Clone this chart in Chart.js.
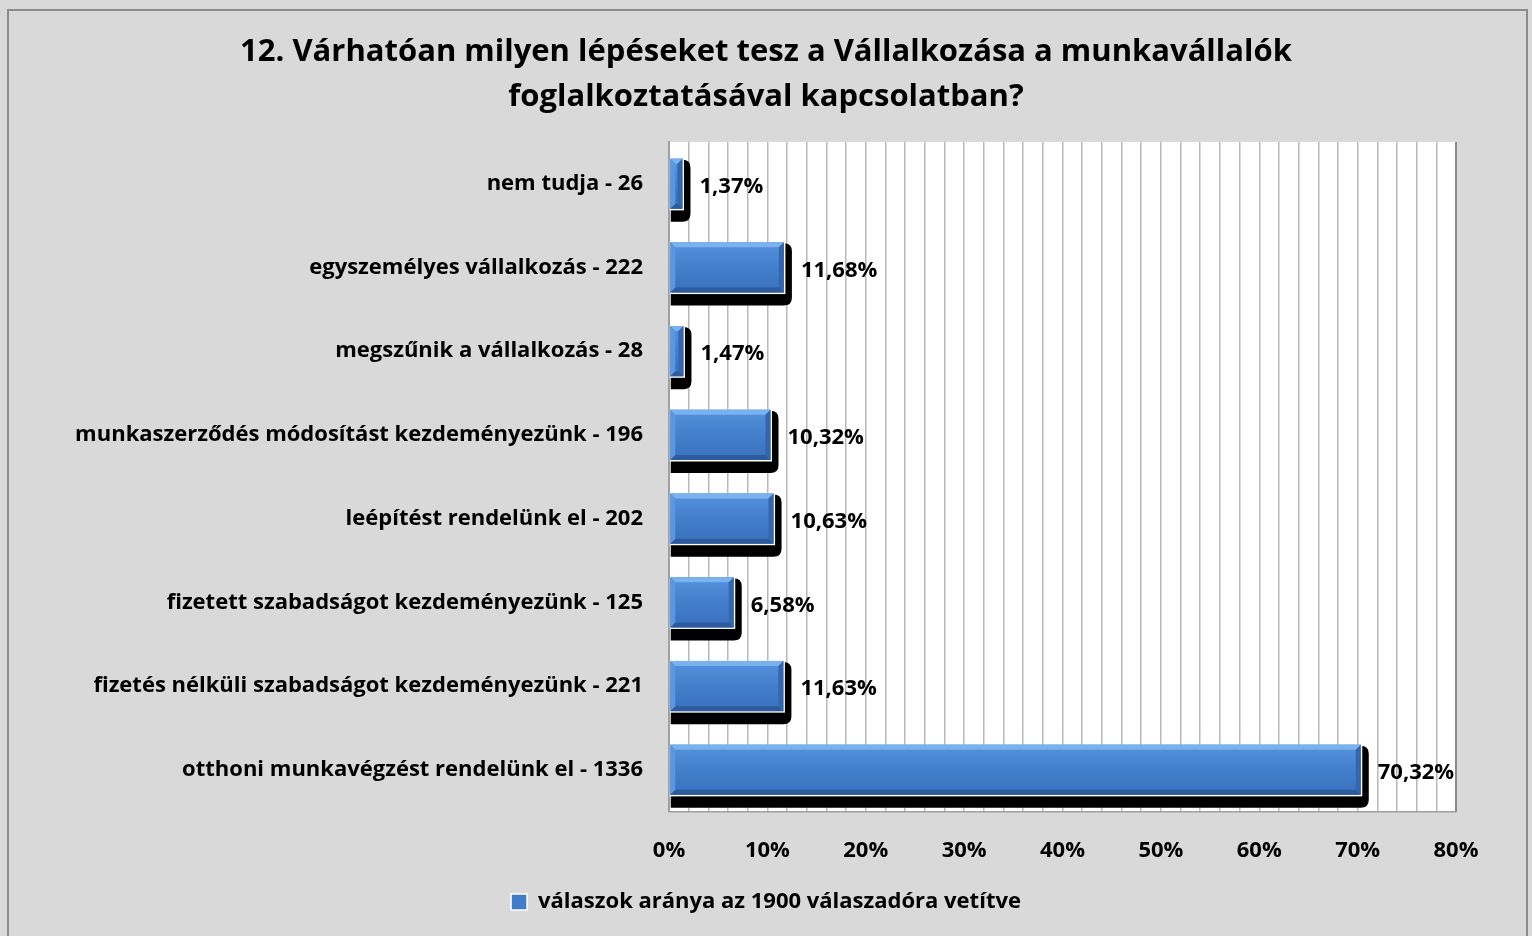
<!DOCTYPE html>
<html>
<head>
<meta charset="utf-8">
<script src="https://cdn.jsdelivr.net/npm/chart.js@4.4.1/dist/chart.umd.min.js"></script>
<style>
html,body{margin:0;padding:0;background:#d9d9d9;}
#wrap{width:1532px;height:936px;position:relative;}
</style>
</head>
<body>
<div id="wrap"><canvas id="c" width="1532" height="936"></canvas></div>
<script>
const categories = [
  "nem tudja",
  "egyszemélyes vállalkozás",
  "megszűnik a vállalkozás",
  "munkaszerződés módosítást kezdeményezünk",
  "leépítést rendelünk el",
  "fizetett szabadságot kezdeményezünk",
  "fizetés nélküli szabadságot kezdeményezünk",
  "otthoni munkavégzést rendelünk el"
];
const counts = [26, 222, 28, 196, 202, 125, 221, 1336];
const percentages = [1.37, 11.68, 1.47, 10.32, 10.63, 6.58, 11.63, 70.32];
const seriesName = "válaszok aránya az 1900 válaszadóra vetítve";
const titleLines = [
  "12. Várhatóan milyen lépéseket tesz a Vállalkozása a munkavállalók",
  "foglalkoztatásával kapcsolatban?"
];
const xTickLabels = ["0%","10%","20%","30%","40%","50%","60%","70%","80%"];

const labels = categories.map((c, i) => c + " - " + counts[i]);
const FONT = "'Open Sans', Lato, sans-serif";

function roundRect(ctx, x, y, w, h, r) {
  ctx.beginPath();
  ctx.moveTo(x + r, y);
  ctx.lineTo(x + w - r, y);
  ctx.quadraticCurveTo(x + w, y, x + w, y + r);
  ctx.lineTo(x + w, y + h - r);
  ctx.quadraticCurveTo(x + w, y + h, x + w - r, y + h);
  ctx.lineTo(x, y + h);
  ctx.lineTo(x, y);
  ctx.closePath();
}

function drawBevelBar(ctx, left, top, right, bottom) {
  const w = right - left, h = bottom - top;
  const b = Math.min(5, w / 2, h / 2);
  const g = ctx.createLinearGradient(0, top, 0, bottom);
  g.addColorStop(0, '#5592dc');
  g.addColorStop(0.5, '#437fcc');
  g.addColorStop(1, '#3970bd');
  ctx.fillStyle = g;
  ctx.fillRect(left, top, w, h);
  ctx.fillStyle = '#79b2ef';
  ctx.beginPath();
  ctx.moveTo(left, top); ctx.lineTo(right, top); ctx.lineTo(right - b, top + b); ctx.lineTo(left + b, top + b);
  ctx.closePath(); ctx.fill();
  ctx.fillStyle = '#2d5b9b';
  ctx.beginPath();
  ctx.moveTo(left, bottom); ctx.lineTo(right, bottom); ctx.lineTo(right - b, bottom - b); ctx.lineTo(left + b, bottom - b);
  ctx.closePath(); ctx.fill();
  ctx.fillStyle = '#5b97e0';
  ctx.beginPath();
  ctx.moveTo(left, top); ctx.lineTo(left + b, top + b); ctx.lineTo(left + b, bottom - b); ctx.lineTo(left, bottom);
  ctx.closePath(); ctx.fill();
  ctx.fillStyle = '#3466ae';
  ctx.beginPath();
  ctx.moveTo(right, top); ctx.lineTo(right - b, top + b); ctx.lineTo(right - b, bottom - b); ctx.lineTo(right, bottom);
  ctx.closePath(); ctx.fill();
}

const bgPlugin = {
  id: 'bg',
  beforeDraw(chart) {
    const ctx = chart.ctx;
    ctx.save();
    ctx.fillStyle = '#d9d9d9';
    ctx.fillRect(0, 0, chart.width, chart.height);
    ctx.strokeStyle = '#8c8c8c';
    ctx.lineWidth = 2;
    ctx.strokeRect(8, 10, chart.width - 13, chart.height - 8);
    const a = chart.chartArea;
    ctx.fillStyle = '#ffffff';
    ctx.fillRect(a.left, a.top, a.right - a.left, a.bottom - a.top);
    ctx.restore();
  },
  beforeDatasetDraw(chart, args) {
    const ctx = chart.ctx;
    ctx.save();
    ctx.fillStyle = '#000';
    args.meta.data.forEach((bar) => {
      const p = bar.getProps(['x','y','base','height'], true);
      const top = p.y - p.height / 2, bottom = p.y + p.height / 2;
      const left = Math.min(p.base, p.x), right = Math.max(p.base, p.x);
      roundRect(ctx, left + 1, top + 1, right - left + 7, bottom - top + 12, 8);
      ctx.fill();
    });
    ctx.restore();
  },
  afterDatasetDraw(chart, args) {
    const ctx = chart.ctx;
    ctx.save();
    args.meta.data.forEach((bar, i) => {
      const p = bar.getProps(['x','y','base','height'], true);
      const top = p.y - p.height / 2, bottom = p.y + p.height / 2;
      const left = Math.min(p.base, p.x), right = Math.max(p.base, p.x);
      ctx.fillStyle = '#ffffff';
      ctx.fillRect(left, top, right - left + 1.5, bottom - top + 1.5);
      drawBevelBar(ctx, left + 0.5, top, right, bottom);
      ctx.fillStyle = '#000';
      ctx.font = "bold 22px " + FONT;
      ctx.textAlign = 'left';
      ctx.textBaseline = 'middle';
      ctx.fillText(percentages[i].toFixed(2).replace('.', ',') + '%', right + 17, p.y + 3);
    });
    ctx.restore();
  },
  afterDraw(chart) {
    const ctx = chart.ctx, a = chart.chartArea;
    ctx.save();
    ctx.strokeStyle = '#8a8a8a';
    ctx.lineWidth = 2;
    ctx.beginPath();
    ctx.moveTo(a.right, a.top); ctx.lineTo(a.right, a.bottom);
    ctx.stroke();
    ctx.restore();
  }
};

Chart.defaults.font.family = FONT;
Chart.defaults.font.weight = 'bold';
Chart.defaults.color = '#000';

new Chart(document.getElementById('c'), {
  type: 'bar',
  data: {
    labels: labels,
    datasets: [{
      label: seriesName,
      data: percentages,
      backgroundColor: '#437fcc',
      borderWidth: 0,
      barPercentage: 0.6,
      categoryPercentage: 1.0
    }]
  },
  options: {
    indexAxis: 'y',
    responsive: false,
    animation: false,
    devicePixelRatio: 1,
    layout: { padding: { left: 38, right: 38, top: 10, bottom: 13 } },
    scales: {
      x: {
        min: 0, max: 80,
        ticks: {
          stepSize: 2,
          autoSkip: false,
          maxRotation: 0,
          padding: 26,
          font: { size: 22, weight: 'bold' },
          color: '#000',
          callback: (v) => (v % 10 === 0 ? xTickLabels[v / 10] : '')
        },
        grid: { color: '#b8b8b8', lineWidth: 1.5, drawTicks: false },
        border: { color: '#a0a0a0', width: 1.5 },
        afterFit(scale) { scale.height -= 15; }
      },
      y: {
        ticks: { font: { size: 22, weight: 'bold' }, color: '#000', padding: 26 },
        grid: { display: false, drawTicks: false },
        border: { color: '#a0a0a0', width: 2 },
        afterFit(scale) { scale.width = 631; }
      },
      yRight: {
        position: 'right',
        display: true,
        ticks: { display: false },
        grid: { display: false, drawTicks: false },
        border: { display: false },
        afterFit(scale) { scale.width = 38; }
      }
    },
    plugins: {
      title: {
        display: true,
        text: titleLines,
        color: '#000',
        font: { size: 31, weight: 'bold', lineHeight: 1.45 },
        padding: { top: 20, bottom: 22 }
      },
      legend: {
        display: true,
        position: 'bottom',
        labels: {
          boxWidth: 16, boxHeight: 16,
          font: { size: 22, weight: 'bold' },
          color: '#000',
          padding: 16,
          generateLabels(chart) {
            return [{
              text: seriesName,
              fillStyle: '#3f7cc9',
              strokeStyle: '#ffffff',
              lineWidth: 1.5,
              datasetIndex: 0
            }];
          }
        }
      },
      tooltip: { enabled: false }
    }
  },
  plugins: [bgPlugin]
});
</script>
</body>
</html>
